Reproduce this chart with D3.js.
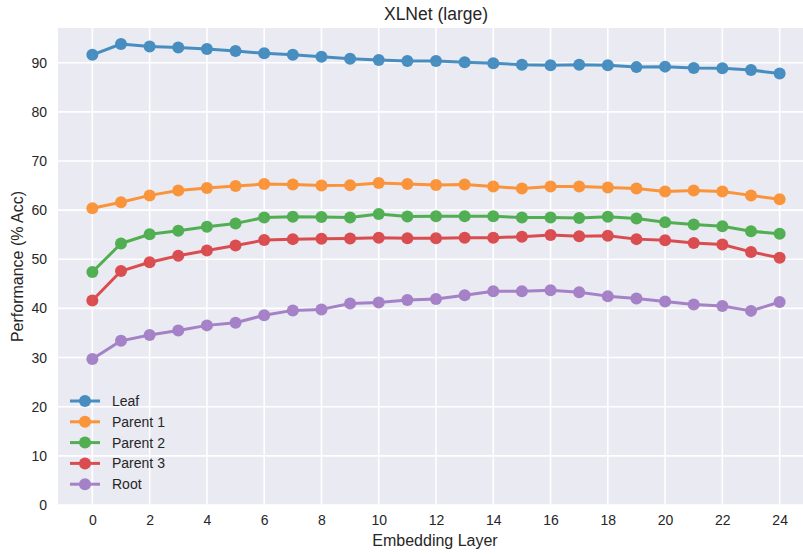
<!DOCTYPE html>
<html>
<head>
<meta charset="utf-8">
<script src="https://cdn.jsdelivr.net/npm/d3@7"></script>
<style>
  html, body { margin: 0; padding: 0; background: #fff; }
  svg { display: block; font-family: "Liberation Sans", Arial, sans-serif; }
</style>
</head>
<body>
<div id="chart"></div>
<script>
const layers = d3.range(0, 25);
const seriesNames = ["Leaf", "Parent 1", "Parent 2", "Parent 3", "Root"];
const colors = ["#1f77b4", "#ff7f0e", "#2ca02c", "#d62728", "#9467bd"];
const leaf = [91.6, 93.8, 93.3, 93.1, 92.8, 92.4, 91.9, 91.6, 91.2, 90.8, 90.55, 90.35, 90.35, 90.1, 89.9, 89.6, 89.5, 89.6, 89.5, 89.1, 89.2, 88.9, 88.85, 88.5, 87.8];
const parent1 = [60.4, 61.6, 63.0, 64.0, 64.5, 64.9, 65.3, 65.2, 65.0, 65.05, 65.5, 65.3, 65.1, 65.2, 64.8, 64.4, 64.8, 64.8, 64.6, 64.4, 63.8, 64.0, 63.8, 63.0, 62.2];
const parent2 = [47.4, 53.2, 55.1, 55.8, 56.6, 57.3, 58.5, 58.65, 58.6, 58.5, 59.2, 58.7, 58.75, 58.75, 58.75, 58.5, 58.5, 58.4, 58.65, 58.3, 57.55, 57.1, 56.7, 55.7, 55.2];
const parent3 = [41.6, 47.6, 49.4, 50.7, 51.8, 52.8, 53.9, 54.1, 54.2, 54.25, 54.4, 54.3, 54.3, 54.4, 54.4, 54.6, 54.95, 54.7, 54.8, 54.1, 53.85, 53.3, 53.0, 51.5, 50.3];
const root = [29.7, 33.4, 34.6, 35.5, 36.55, 37.1, 38.6, 39.6, 39.8, 41.0, 41.2, 41.7, 41.9, 42.7, 43.5, 43.5, 43.7, 43.3, 42.5, 42.0, 41.4, 40.8, 40.5, 39.5, 41.3];
const xTicks = [0, 2, 4, 6, 8, 10, 12, 14, 16, 18, 20, 22, 24];
const yTicks = [0, 10, 20, 30, 40, 50, 60, 70, 80, 90];
const title = "XLNet (large)";
const xLabel = "Embedding Layer";
const yLabel = "Performance (% Acc)";

const allSeries = [leaf, parent1, parent2, parent3, root];

const W = 803, H = 554;
const plot = { left: 58, right: 814, top: 28, bottom: 505 };

const svg = d3.select("#chart").append("svg")
  .attr("width", W).attr("height", H);

const x = d3.scaleLinear().domain([-1.2, 25.2]).range([plot.left, plot.right]);
const y = d3.scaleLinear().domain([0, 97.06]).range([plot.bottom, plot.top]);

svg.append("rect")
  .attr("x", plot.left).attr("y", plot.top)
  .attr("width", plot.right - plot.left).attr("height", plot.bottom - plot.top)
  .attr("fill", "#eaeaf2");

// grid
const g = svg.append("g");
g.selectAll(".vg").data(xTicks).enter().append("line")
  .attr("x1", d => x(d)).attr("x2", d => x(d))
  .attr("y1", plot.top).attr("y2", plot.bottom)
  .attr("stroke", "#fff").attr("stroke-width", 1.6);
g.selectAll(".hg").data(yTicks).enter().append("line")
  .attr("x1", plot.left).attr("x2", plot.right)
  .attr("y1", d => y(d)).attr("y2", d => y(d))
  .attr("stroke", "#fff").attr("stroke-width", 1.6);

// axes
const xAxis = d3.axisBottom(x).tickValues(xTicks).tickSize(0).tickPadding(10);
const yAxis = d3.axisLeft(y).tickValues(yTicks).tickSize(0).tickPadding(11);
const xa = svg.append("g").attr("transform", `translate(0,${plot.bottom})`).call(xAxis);
const ya = svg.append("g").attr("transform", `translate(${plot.left},0)`).call(yAxis);
[xa, ya].forEach(a => {
  a.select(".domain").remove();
  a.selectAll("text").attr("font-size", 14).attr("fill", "#262626")
    .attr("font-family", "Liberation Sans, Arial, sans-serif");
});

// lines
const line = d3.line().x((d, i) => x(layers[i])).y(d => y(d));
allSeries.forEach((s, k) => {
  const grp = svg.append("g").attr("opacity", 0.8);
  grp.append("path").datum(s)
    .attr("d", line).attr("fill", "none")
    .attr("stroke", colors[k]).attr("stroke-width", 3)
    .attr("stroke-linejoin", "round").attr("stroke-linecap", "round");
  grp.selectAll("circle").data(s).enter().append("circle")
    .attr("cx", (d, i) => x(layers[i])).attr("cy", d => y(d))
    .attr("r", 6).attr("fill", colors[k]);
});

// title & labels
svg.append("text").attr("x", (plot.left + plot.right) / 2).attr("y", 20)
  .attr("text-anchor", "middle").attr("font-size", 17.5).attr("fill", "#262626").text(title);
svg.append("text").attr("x", (plot.left + plot.right) / 2 - 1).attr("y", 546)
  .attr("text-anchor", "middle").attr("font-size", 16).attr("fill", "#262626").text(xLabel);
svg.append("text")
  .attr("transform", `translate(23,${(plot.top + plot.bottom) / 2}) rotate(-90)`)
  .attr("text-anchor", "middle").attr("font-size", 16).attr("fill", "#262626").text(yLabel);

// legend
const leg = svg.append("g");
seriesNames.forEach((n, k) => {
  const ly = 401 + k * 20.8;
  const lg = leg.append("g").attr("opacity", 0.8);
  lg.append("line").attr("x1", 70).attr("x2", 100).attr("y1", ly).attr("y2", ly)
    .attr("stroke", colors[k]).attr("stroke-width", 3);
  lg.append("circle").attr("cx", 85).attr("cy", ly).attr("r", 6).attr("fill", colors[k]);
  leg.append("text").attr("x", 112).attr("y", ly + 5).attr("font-size", 14)
    .attr("fill", "#262626").text(n);
});
</script>
</body>
</html>
